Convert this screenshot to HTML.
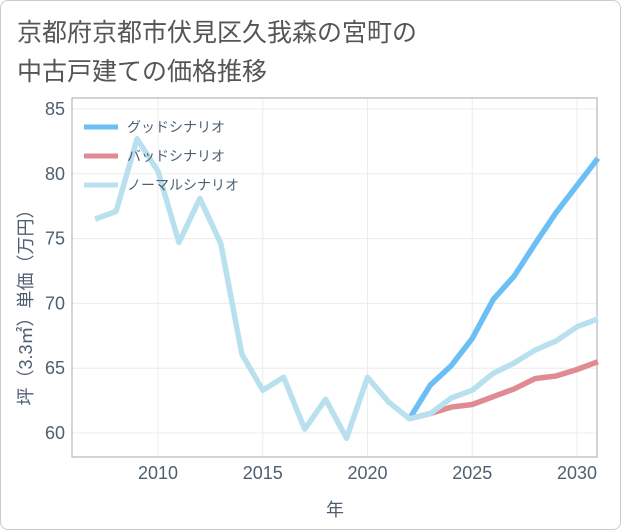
<!DOCTYPE html>
<html><head><meta charset="utf-8"><style>
body{margin:0;background:#fff;font-family:"Liberation Sans","Noto Sans CJK JP",sans-serif}
#wrap{position:relative;width:619px;height:528px;border:1px solid #ccc;border-radius:8px;background:#fff;overflow:hidden}
</style></head><body>
<div id="wrap">
<svg id="chart" width="619" height="528">
<text x="16" y="40" font-size="25" fill="#555">京都府京都市伏見区久我森の宮町の</text>
<text x="16" y="79" font-size="25" fill="#555">中古戸建ての価格推移</text>
</svg>
</div>
<script>
const years=[2007,2008,2009,2010,2011,2012,2013,2014,2015,2016,2017,2018,2019,2020,2021,2022,2023,2024,2025,2026,2027,2028,2029,2030,2031];
const normal=[76.5,77.1,82.7,80.2,74.7,78.1,74.6,66.1,63.3,64.3,60.3,62.6,59.6,64.3,62.4,61.1,61.5,62.7,63.3,64.6,65.4,66.4,67.1,68.2,68.8];
const goodYears=[2022,2023,2024,2025,2026,2027,2028,2029,2030,2031];
const good=[61.1,63.7,65.2,67.3,70.3,72.1,74.6,77.0,79.1,81.2];
const bad=[61.1,61.5,62.0,62.2,62.8,63.4,64.2,64.4,64.9,65.5];
const yTicks=[60,65,70,75,80,85];
const xTicks=[2010,2015,2020,2025,2030];
const NS="http://www.w3.org/2000/svg";
const svg=document.getElementById('chart');
const L=71,R=596,T=97,B=456;
const TXT='#4f5f70';
const x=v=>157+(v-2010)*20.95;
const y=v=>432-(v-60)*12.96;
function mk(t,a){const e=document.createElementNS(NS,t);for(const k in a)e.setAttribute(k,a[k]);svg.appendChild(e);return e;}
yTicks.forEach(v=>{const g=mk('line',{x1:L,x2:R,y1:y(v),y2:y(v),stroke:'#ececec'});

const t=mk('text',{x:L-7,y:y(v)+6,'text-anchor':'end','font-size':18,fill:TXT});t.textContent=v;
});
xTicks.forEach(v=>{const g=mk('line',{x1:x(v),x2:x(v),y1:T,y2:B,stroke:'#ececec'});

const t=mk('text',{x:x(v),y:B+22,'text-anchor':'middle','font-size':18,fill:TXT});t.textContent=v;
});
const fr=mk('rect',{x:L,y:T,width:R-L,height:B-T,fill:'none',stroke:'#aaa'});

function line(xs,vs,c,n){const p=mk('polyline',{points:xs.map((v,i)=>x(v)+','+y(vs[i])).join(' '),fill:'none',stroke:c,'stroke-width':5.5,'stroke-linejoin':'round'});
}
line(goodYears,good,'#6bbff5','good-scenario-line');
line(goodYears,bad,'#e08a93','bad-scenario-line');
line(years,normal,'#b9e0ee','normal-scenario-line');
const leg=[['グッドシナリオ','#6bbff5'],['バッドシナリオ','#e08a93'],['ノーマルシナリオ','#b9e0ee']];
leg.forEach((d,i)=>{const yy=126+i*29;
const l=mk('line',{x1:83,x2:117,y1:yy,y2:yy,stroke:d[1],'stroke-width':5});

const t=mk('text',{x:126,y:yy+5,'font-size':14,fill:TXT});t.textContent=d[0];
});
const xt=mk('text',{x:334,y:515,'text-anchor':'middle','font-size':18,fill:TXT});xt.textContent='年';

const yt=mk('text',{x:0,y:0,'text-anchor':'middle','font-size':18,fill:TXT,transform:'translate(31,302) rotate(-90)'});yt.textContent='坪（3.3㎡）単価（万円）';

</script>
</body></html>
